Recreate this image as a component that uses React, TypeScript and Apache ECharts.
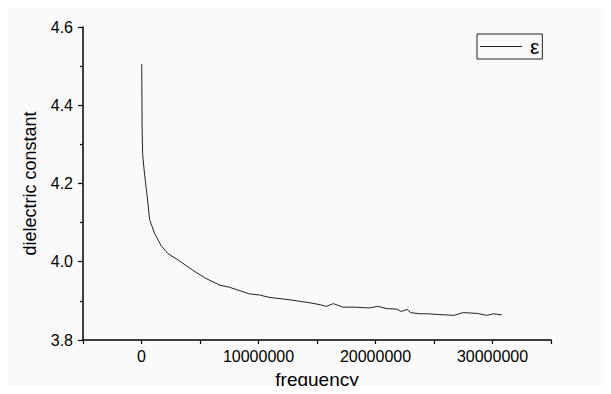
import React, { useEffect, useRef } from "react";
import * as echarts from "echarts";

const frequency = [
  20000, 50000, 100000, 260000, 490000, 690000, 1110000, 1680000, 2250000, 3200000,
  4400000, 5400000, 6700000, 7500000, 9200000, 10100000, 10900000, 12600000, 14400000,
  15300000, 15800000, 16400000, 17200000, 18100000, 19500000, 20200000, 21000000,
  21800000, 22200000, 22700000, 23000000, 23800000, 24400000, 25500000, 26700000,
  27500000, 28700000, 29500000, 30100000, 30800000,
];
const epsilon = [
  4.505, 4.347, 4.274, 4.224, 4.166, 4.108, 4.073, 4.041, 4.021, 4.003,
  3.978, 3.959, 3.94, 3.935, 3.918, 3.915, 3.909, 3.903, 3.895,
  3.89, 3.886, 3.893, 3.884, 3.884, 3.882, 3.886, 3.88,
  3.879, 3.873, 3.878, 3.87, 3.867, 3.867, 3.865, 3.863,
  3.87, 3.868, 3.863, 3.867, 3.864,
];
const xTickLabels = [0, 10000000, 20000000, 30000000];
const seriesName = "ε";

export default function App() {
  const ref = useRef<HTMLDivElement>(null);
  useEffect(() => {
    if (!ref.current) return;
    const chart = echarts.init(ref.current, null, { renderer: "svg" });
    const font = "Arial, 'Liberation Sans', sans-serif";
    chart.setOption({
      animation: false,
      backgroundColor: "#fafafa",
      grid: { left: 83, top: 27, right: 60, bottom: 48, containLabel: false },
      legend: {
        show: true,
        data: [seriesName],
        left: 477,
        top: 34,
        orient: "vertical",
        icon: "rect",
        itemWidth: 42,
        itemHeight: 1,
        itemGap: 0,
        padding: [2, 3, 2, 3],
        borderColor: "#222",
        borderWidth: 1,
        textStyle: { fontFamily: font, fontSize: 21, color: "#000", padding: [0, 0, 0, 3] },
      },
      xAxis: {
        type: "value",
        min: -5000000,
        max: 35000000,
        interval: 5000000,
        name: "frequency",
        nameLocation: "middle",
        nameGap: 30,
        nameTextStyle: { fontFamily: font, fontSize: 19, color: "#000" },
        axisLine: { show: true, onZero: false, lineStyle: { color: "#000", width: 1.5 } },
        axisTick: { show: true, length: 4, lineStyle: { color: "#000", width: 1.2 } },
        splitLine: { show: false },
        axisLabel: {
          fontFamily: font,
          fontSize: 16,
          color: "#000",
          margin: 8,
          formatter: (v: number) => (xTickLabels.includes(v) ? String(v) : ""),
        },
      },
      yAxis: {
        type: "value",
        min: 3.8,
        max: 4.6,
        interval: 0.2,
        name: "dielectric constant",
        nameLocation: "middle",
        nameGap: 44,
        nameTextStyle: { fontFamily: font, fontSize: 18, color: "#000" },
        axisLine: { show: true, onZero: false, lineStyle: { color: "#000", width: 1.5 } },
        axisTick: { show: true, length: 5, lineStyle: { color: "#000", width: 1.2 } },
        minorTick: { show: true, splitNumber: 2, length: 3, lineStyle: { color: "#000", width: 1.2 } },
        splitLine: { show: false },
        axisLabel: {
          fontFamily: font,
          fontSize: 16,
          color: "#000",
          margin: 10,
          formatter: (v: number) => v.toFixed(1),
        },
      },
      series: [
        {
          name: seriesName,
          type: "line",
          data: frequency.map((f, i) => [f, epsilon[i]]),
          showSymbol: false,
          symbol: "none",
          lineStyle: { color: "#222", width: 1 },
          itemStyle: { color: "#222" },
        },
      ],
    });
    return () => chart.dispose();
  }, []);
  return <div ref={ref} style={{ width: 611, height: 394, margin: -8 }} />;
}
